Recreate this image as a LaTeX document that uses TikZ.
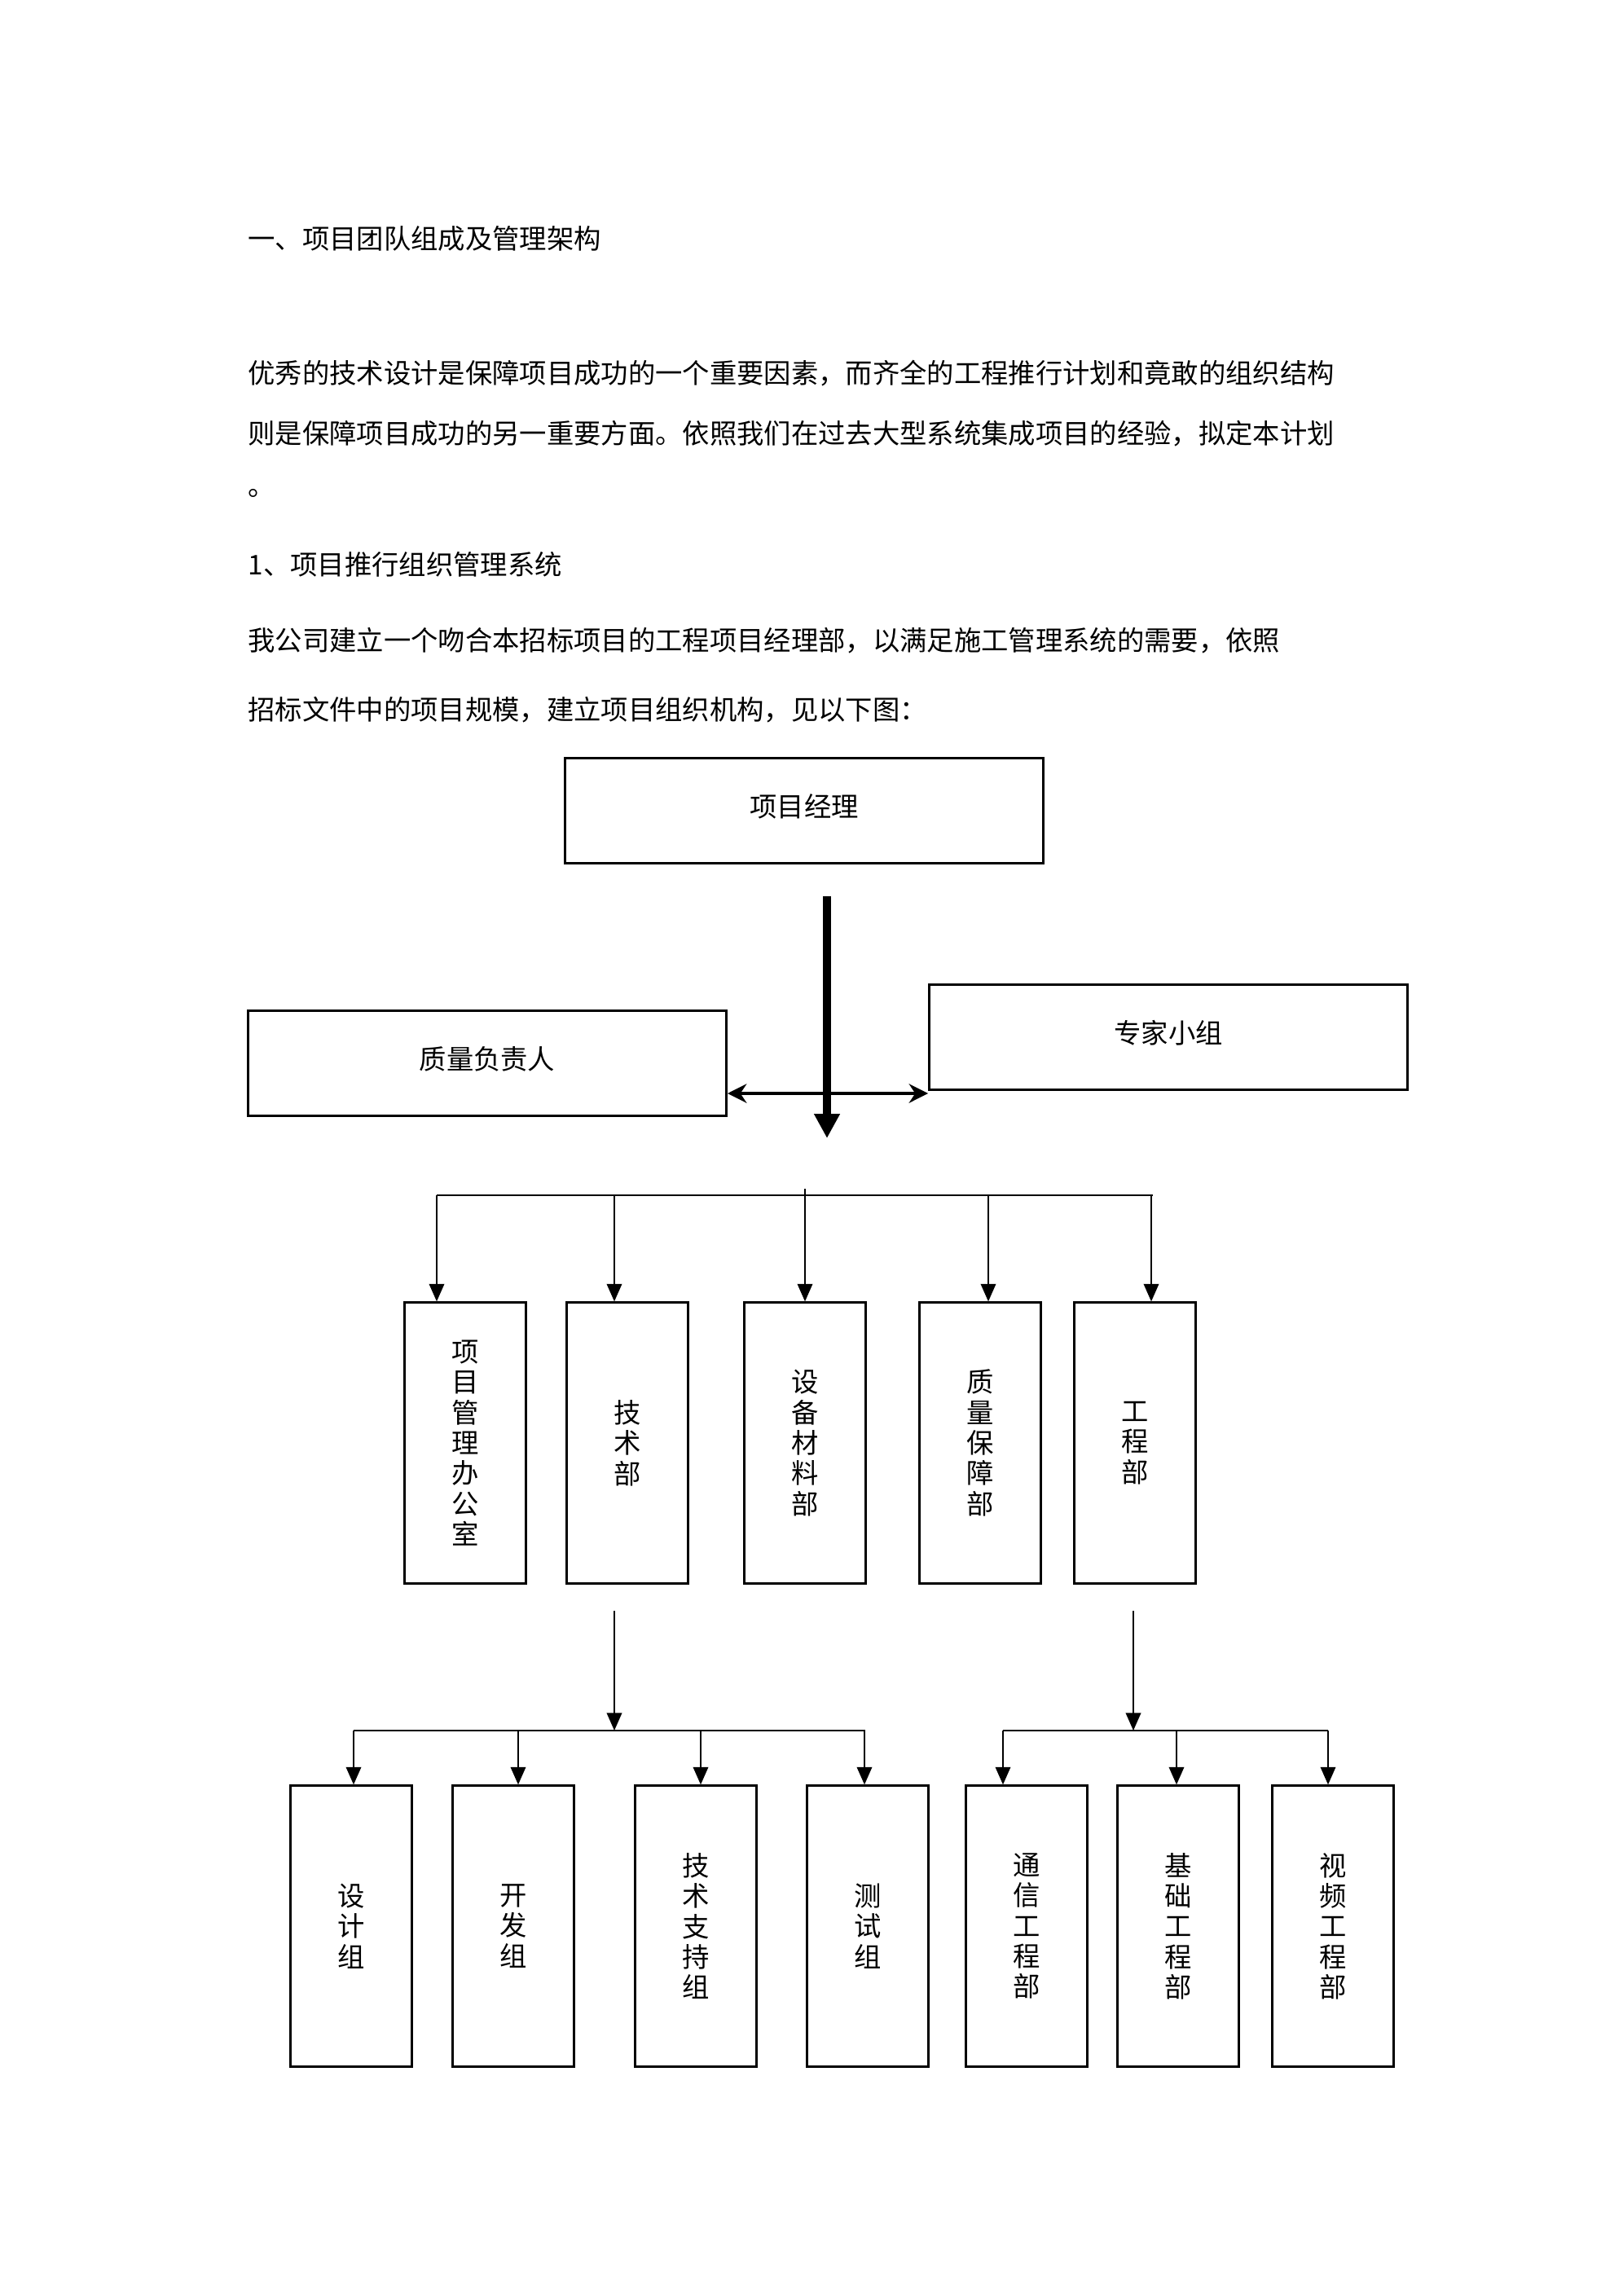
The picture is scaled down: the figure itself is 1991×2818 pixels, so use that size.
\documentclass[tikz,border=0pt]{standalone}
\usepackage{fontspec}
\setmainfont{Noto Sans CJK SC}
\usetikzlibrary{arrows.meta}

\begin{document}
\begin{tikzpicture}[
    x=0.10547mm, y=-0.10547mm,
    txt/.style={anchor=west, inner sep=0pt, font=\fontsize{10}{12}\selectfont},
    box/.style={draw, line width=0.9pt, inner sep=0pt},
    widebox/.style={box, minimum width=61.9mm, minimum height=13.7mm,
      text depth=4.2pt, font=\fontsize{10}{12}\selectfont},
    tallbox/.style={box, minimum width=15.8mm, minimum height=36.3mm,
      align=center, font=\fontsize{10}{11.2}\selectfont},
    arr/.style={-{Triangle[length=6.5pt,width=5.5pt]}, line width=0.8pt},
    busline/.style={line width=0.8pt},
    bigarrow/.style={-{Triangle[length=9pt,width=9pt]}, line width=3pt},
    duoarrow/.style={{Stealth[length=7pt,width=7pt]}-{Stealth[length=7pt,width=7pt]},
      line width=1.2pt}
  ]
    \useasboundingbox (0,0) rectangle (1991,2818);

    % text above the chart
    \node[txt] (head) at (304,293) {一、项目团队组成及管理架构};
    \node[txt] (para1) at (304,458)
      {优秀的技术设计是保障项目成功的一个重要因素，而齐全的工程推行计划和竟敢的组织结构};
    \node[txt] (para2) at (304,532)
      {则是保障项目成功的另一重要方面。依照我们在过去大型系统集成项目的经验，拟定本计划};
    \node[txt] (para3) at (304,605) {。};
    \node[txt] (sub) at (304,693) {1、项目推行组织管理系统};
    \node[txt] (para4) at (304,786)
      {我公司建立一个吻合本招标项目的工程项目经理部，以满足施工管理系统的需要，依照};
    \node[txt] (para5) at (304,871)
      {招标文件中的项目规模，建立项目组织机构，见以下图：};

    % top level
    \node[widebox] (pm) at (987,995) {项目经理};
    \node[widebox] (qa) at (598,1305) {质量负责人};
    \node[widebox] (ex) at (1434,1273) {专家小组};
    \coordinate (trunk) at (1015,1100);
    \coordinate (trunkend) at (1015,1397);
    \draw[bigarrow] (trunk) -- (trunkend);
    \coordinate (side) at (1015,1342);
    \draw[duoarrow] (qa.east |- side) -- (ex.west |- side);

    % departments
    \node[tallbox] (d1) at (571,1771) {项\\目\\管\\理\\办\\公\\室};
    \node[tallbox] (d2) at (770,1771) {技\\术\\部};
    \node[tallbox] (d3) at (988,1771) {设\\备\\材\\料\\部};
    \node[tallbox] (d4) at (1203,1771) {质\\量\\保\\障\\部};
    \node[tallbox] (d5) at (1393,1771) {工\\程\\部};
    \coordinate (busA) at (536,1467);
    \coordinate (busB) at (1415,1467);
    \draw[busline] (busA) -- (busB);
    \draw[arr] (988,1459) -- (988,0 |- d3.north);
    \foreach \n/\xa in {1/536,2/754,4/1213,5/1413}
      \draw[arr] (\xa,1467) -- (\xa,0 |- d\n.north);

    % groups under 技术部 and 工程部
    \node[tallbox] (g1) at (431,2364) {设\\计\\组};
    \node[tallbox] (g2) at (630,2364) {开\\发\\组};
    \node[tallbox] (g3) at (854,2364) {技\\术\\支\\持\\组};
    \node[tallbox] (g4) at (1065,2364) {测\\试\\组};
    \node[tallbox] (g5) at (1260,2364) {通\\信\\工\\程\\部};
    \node[tallbox] (g6) at (1446,2364) {基\\础\\工\\程\\部};
    \node[tallbox] (g7) at (1636,2364) {视\\频\\工\\程\\部};
    \coordinate (busC) at (434,2124);
    \coordinate (busD) at (1062,2124);
    \coordinate (busE) at (1231,2124);
    \coordinate (busF) at (1630,2124);
    \draw[arr] (754,1977) -- (754,0 |- busC);
    \draw[arr] (1391,1977) -- (1391,0 |- busE);
    \draw[busline] (busC) -- (busD);
    \draw[busline] (busE) -- (busF);
    \foreach \n/\xa in {1/434,2/636,3/860,4/1061,5/1231,6/1444,7/1630}
      \draw[arr] (\xa,2124) -- (\xa,0 |- g\n.north);
  \end{tikzpicture}
\end{document}
